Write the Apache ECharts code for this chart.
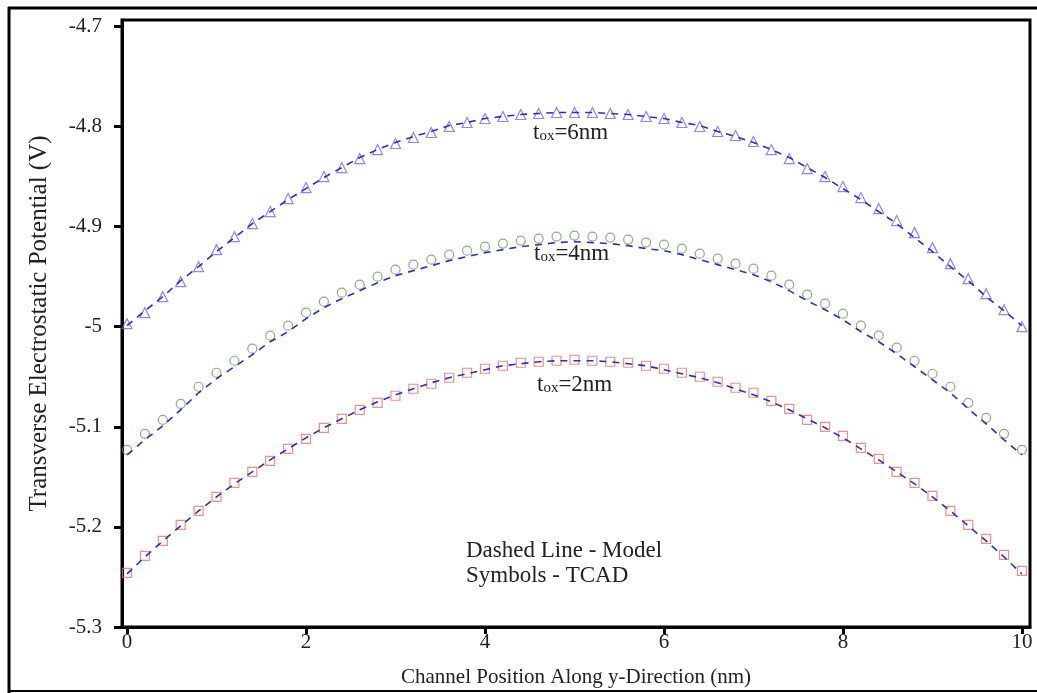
<!DOCTYPE html>
<html>
<head>
<meta charset="utf-8">
<script src="https://cdn.jsdelivr.net/npm/echarts@6/dist/echarts.min.js"></script>
<style>
html,body{margin:0;padding:0;background:#fff;}
#chart{width:1037px;height:693px;}
</style>
</head>
<body>
<div id="chart"></div>
<script>
// Channel position (nm)
const positions = [0.0,0.2,0.4,0.6,0.8,1.0,1.2,1.4,1.6,1.8,2.0,2.2,2.4,2.6,2.8,3.0,3.2,3.4,3.6,3.8,4.0,4.2,4.4,4.6,4.8,5.0,5.2,5.4,5.6,5.8,6.0,6.2,6.4,6.6,6.8,7.0,7.2,7.4,7.6,7.8,8.0,8.2,8.4,8.6,8.8,9.0,9.2,9.4,9.6,9.8,10.0];

// TCAD symbols
const tcad6 = [-4.997,-4.986,-4.970,-4.955,-4.940,-4.923,-4.910,-4.897,-4.885,-4.872,
  -4.861,-4.850,-4.841,-4.832,-4.823,-4.817,-4.811,-4.806,-4.800,-4.796,
  -4.792,-4.790,-4.788,-4.787,-4.786,-4.786,-4.786,-4.787,-4.788,-4.790,
  -4.792,-4.796,-4.800,-4.805,-4.809,-4.815,-4.823,-4.832,-4.842,-4.850,
  -4.860,-4.871,-4.882,-4.894,-4.906,-4.921,-4.937,-4.952,-4.967,-4.983,-5.000];
const tcad4 = [-5.123,-5.107,-5.093,-5.077,-5.060,-5.046,-5.034,-5.022,-5.009,-4.999,
  -4.986,-4.975,-4.966,-4.958,-4.950,-4.943,-4.938,-4.933,-4.928,-4.924,
  -4.920,-4.917,-4.914,-4.912,-4.910,-4.909,-4.910,-4.911,-4.913,-4.916,
  -4.918,-4.922,-4.927,-4.932,-4.937,-4.942,-4.949,-4.958,-4.968,-4.977,
  -4.987,-4.999,-5.009,-5.021,-5.034,-5.047,-5.060,-5.076,-5.091,-5.107,-5.123];
const tcad2 = [-5.246,-5.229,-5.214,-5.198,-5.184,-5.170,-5.156,-5.145,-5.134,-5.122,
  -5.112,-5.101,-5.092,-5.083,-5.076,-5.069,-5.062,-5.057,-5.051,-5.046,
  -5.042,-5.039,-5.036,-5.035,-5.034,-5.033,-5.034,-5.035,-5.036,-5.039,
  -5.042,-5.046,-5.050,-5.055,-5.061,-5.066,-5.074,-5.082,-5.093,-5.100,
  -5.109,-5.121,-5.132,-5.145,-5.156,-5.169,-5.184,-5.198,-5.212,-5.228,-5.244];

// Model (dashed lines)
const model6 = [-4.999,-4.984,-4.970,-4.954,-4.940,-4.925,-4.911,-4.897,-4.885,-4.873,
  -4.862,-4.851,-4.841,-4.831,-4.823,-4.816,-4.810,-4.805,-4.799,-4.796,
  -4.792,-4.790,-4.788,-4.787,-4.786,-4.786,-4.786,-4.787,-4.788,-4.790,
  -4.792,-4.796,-4.799,-4.805,-4.810,-4.816,-4.823,-4.831,-4.841,-4.851,
  -4.862,-4.873,-4.885,-4.897,-4.911,-4.925,-4.940,-4.954,-4.970,-4.984,-4.999];
const model4 = [-5.128,-5.113,-5.099,-5.083,-5.066,-5.052,-5.040,-5.028,-5.015,-5.005,
  -4.992,-4.981,-4.972,-4.964,-4.956,-4.949,-4.944,-4.939,-4.934,-4.930,
  -4.926,-4.923,-4.920,-4.918,-4.916,-4.915,-4.916,-4.917,-4.919,-4.922,
  -4.924,-4.928,-4.933,-4.938,-4.943,-4.948,-4.955,-4.964,-4.974,-4.983,
  -4.993,-5.005,-5.015,-5.027,-5.040,-5.053,-5.066,-5.082,-5.097,-5.113,-5.128];
const model2 = [-5.247,-5.230,-5.214,-5.199,-5.184,-5.170,-5.157,-5.145,-5.133,-5.122,
  -5.111,-5.101,-5.092,-5.083,-5.075,-5.068,-5.062,-5.056,-5.051,-5.047,
  -5.043,-5.039,-5.037,-5.035,-5.034,-5.034,-5.034,-5.035,-5.037,-5.039,
  -5.043,-5.047,-5.051,-5.056,-5.062,-5.068,-5.075,-5.083,-5.092,-5.101,
  -5.111,-5.122,-5.133,-5.145,-5.157,-5.170,-5.184,-5.199,-5.214,-5.230,-5.247];

// Tick labels
const xTicks = [0,2,4,6,8,10];
const yTicks = [-5.3,-5.2,-5.1,-5,-4.9,-4.8,-4.7];

const serif = 'Liberation Serif, Times New Roman, serif';
const pair = (ys) => positions.map((x, i) => [x, ys[i]]);

const chart = echarts.init(document.getElementById('chart'), null, {renderer: 'canvas'});

function scatter(name, data, symbol, color, size) {
  return {
    name, type: 'scatter', data: pair(data), symbol, symbolSize: size,
    itemStyle: {color: 'rgba(255,255,255,0)', borderColor: color, borderWidth: 1.2},
    z: 3, silent: true
  };
}
function dashed(name, data) {
  return {
    name, type: 'line', data: pair(data), showSymbol: false, smooth: false,
    lineStyle: {color: '#2f2fb8', width: 1.6, type: [7, 6]},
    z: 4, silent: true
  };
}

const sub = (val, x, y) => ({
  type: 'text', left: x, top: y,
  style: {
    rich: {
      a: {fontFamily: serif, fontSize: 23, fill: '#222', lineHeight: 24, verticalAlign: 'bottom'},
      b: {fontFamily: serif, fontSize: 15, fill: '#222', lineHeight: 24, verticalAlign: 'bottom', padding: [7, 0, 0, 0]}
    },
    text: '{a|t}{b|ox}{a|=' + val + '}'
  }
});

const option = {
  backgroundColor: '#fff',
  animation: false,
  grid: {left: 122, right: 7, top: 20, bottom: 56, show: true, borderColor: '#000', borderWidth: 3, backgroundColor: 'transparent'},
  xAxis: {
    type: 'value', min: -0.056, max: 10.09,
    name: 'Channel Position Along y-Direction (nm)', nameLocation: 'middle', nameGap: 40,
    nameTextStyle: {fontFamily: serif, fontSize: 21, color: '#222'},
    axisLine: {show: true, onZero: false, lineStyle: {color: '#000', width: 3}},
    axisTick: {show: true, inside: false, length: 7, lineStyle: {color: '#000', width: 3}, customValues: xTicks},
    axisLabel: {fontFamily: serif, fontSize: 21, color: '#222', margin: 5, customValues: xTicks},
    splitLine: {show: false}
  },
  yAxis: {
    type: 'value', min: -5.3, max: -4.6936,
    name: 'Transverse Electrostatic Potential (V)', nameLocation: 'middle', nameGap: 70, nameRotate: 90,
    nameTextStyle: {fontFamily: serif, fontSize: 25, color: '#222'},
    axisLine: {show: true, onZero: false, lineStyle: {color: '#000', width: 3}},
    axisTick: {show: true, inside: false, length: 8, lineStyle: {color: '#000', width: 3}, customValues: yTicks},
    axisLabel: {fontFamily: serif, fontSize: 21, color: '#222', margin: 20, customValues: yTicks},
    splitLine: {show: false}
  },
  graphic: [
    {type: 'line', shape: {x1: 8, y1: 8, x2: 1037, y2: 8}, style: {stroke: '#000', lineWidth: 3}},
    {type: 'line', shape: {x1: 9, y1: 7, x2: 9, y2: 693}, style: {stroke: '#000', lineWidth: 3}},
    {type: 'line', shape: {x1: 8, y1: 691, x2: 1037, y2: 691}, style: {stroke: '#000', lineWidth: 2}},
    sub('6nm', 533, 121),
    sub('4nm', 534, 242),
    sub('2nm', 537, 373),
    {type: 'text', left: 466, top: 539, style: {text: 'Dashed Line - Model', fontFamily: serif, fontSize: 23, fill: '#222'}},
    {type: 'text', left: 466, top: 564, style: {text: 'Symbols - TCAD', fontFamily: serif, fontSize: 23, fill: '#222'}}
  ],
  series: [
    scatter('TCAD tox=6nm', tcad6, 'triangle', '#6a6ae8', 10),
    scatter('TCAD tox=4nm', tcad4, 'circle', '#6f9a68', 9),
    scatter('TCAD tox=2nm', tcad2, 'rect', '#ee7070', 9),
    dashed('Model tox=6nm', model6),
    dashed('Model tox=4nm', model4),
    dashed('Model tox=2nm', model2)
  ]
};
chart.setOption(option);
</script>
</body>
</html>
